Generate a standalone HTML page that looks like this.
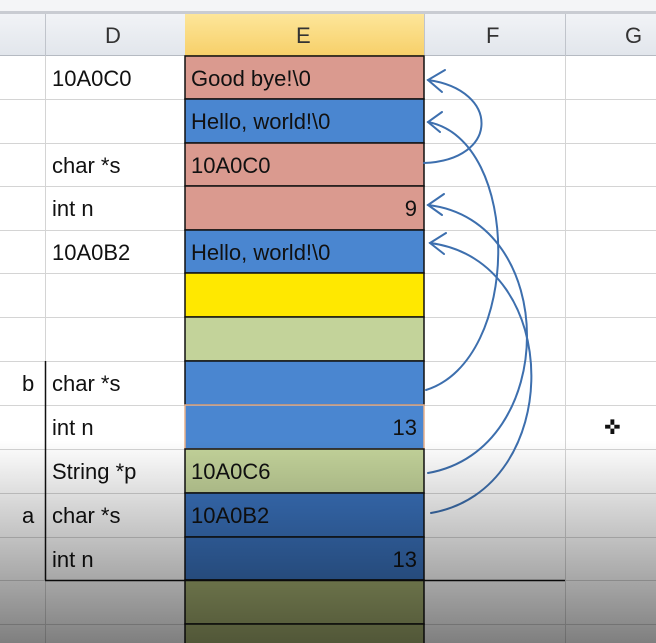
<!DOCTYPE html>
<html><head><style>
body{margin:0;width:656px;height:643px;overflow:hidden;background:#fff;font-family:"Liberation Sans",sans-serif;}
.a{position:absolute;box-sizing:border-box;}
.t{font-size:22px;color:#111;line-height:43px;white-space:nowrap;}
</style></head><body>
<div class="a" style="left:0;top:0;width:656px;height:14px;background:#f4f5f7;border-bottom:3px solid #c9ccd2"></div>
<div class="a" style="left:0;top:14px;width:656px;height:42px;background:linear-gradient(#f1f3f6,#e2e6ec);border-bottom:1px solid #b5bac2"></div>
<div class="a" style="left:185px;top:14px;width:239px;height:42px;background:linear-gradient(#fde69a,#f7d06a);border-bottom:1px solid #c9a94d"></div>
<div class="a" style="left:45px;top:14px;width:1px;height:42px;background:#c0c4cb"></div>
<div class="a" style="left:424px;top:14px;width:1px;height:42px;background:#c0c4cb"></div>
<div class="a" style="left:565px;top:14px;width:1px;height:42px;background:#c0c4cb"></div>
<div class="a t" style="left:105px;top:14px;color:#333">D</div>
<div class="a t" style="left:296px;top:14px;color:#333">E</div>
<div class="a t" style="left:486px;top:14px;color:#333">F</div>
<div class="a t" style="left:625px;top:14px;color:#333">G</div>
<svg class="a" style="left:0;top:0" width="656" height="643">
<g stroke="#d4d4d4" stroke-width="1">
<line x1="45.5" y1="56" x2="45.5" y2="643"/><line x1="565.5" y1="56" x2="565.5" y2="643"/>
<line x1="0" y1="99.5" x2="656" y2="99.5"/><line x1="0" y1="143.5" x2="656" y2="143.5"/>
<line x1="0" y1="186.5" x2="656" y2="186.5"/><line x1="0" y1="230.5" x2="656" y2="230.5"/>
<line x1="0" y1="273.5" x2="656" y2="273.5"/><line x1="0" y1="317.5" x2="656" y2="317.5"/>
<line x1="0" y1="361.5" x2="656" y2="361.5"/><line x1="0" y1="405.5" x2="656" y2="405.5"/>
<line x1="0" y1="449.5" x2="656" y2="449.5"/><line x1="0" y1="493.5" x2="656" y2="493.5"/>
<line x1="0" y1="537.5" x2="656" y2="537.5"/><line x1="0" y1="580.5" x2="656" y2="580.5"/>
<line x1="0" y1="624.5" x2="656" y2="624.5"/>
</g>
<g stroke="#111" stroke-width="1.5">
<rect x="185" y="56" width="239" height="43" fill="#da9a8f"/>
<rect x="185" y="99" width="239" height="44" fill="#4a86d0"/>
<rect x="185" y="143" width="239" height="43" fill="#da9a8f"/>
<rect x="185" y="186" width="239" height="44" fill="#da9a8f"/>
<rect x="185" y="230" width="239" height="43" fill="#4a86d0"/>
<rect x="185" y="273" width="239" height="44" fill="#ffe800"/>
<rect x="185" y="317" width="239" height="44" fill="#c3d39a"/>
<rect x="185" y="361" width="239" height="44" fill="#4a86d0"/>
<rect x="185" y="405" width="239" height="44" fill="#4a86d0" stroke="#e8b08a"/>
<rect x="185" y="449" width="239" height="44" fill="#c3d39a"/>
<rect x="185" y="493" width="239" height="44" fill="#3a72bd"/>
<rect x="185" y="537" width="239" height="43" fill="#3a72bd"/>
<rect x="185" y="580" width="239" height="44" fill="#a3ae70"/>
<rect x="185" y="624" width="239" height="30" fill="#a3ae70"/>
</g>
<line x1="45.5" y1="361" x2="45.5" y2="580" stroke="#111" stroke-width="1.5"/>
<line x1="45" y1="580.5" x2="565" y2="580.5" stroke="#111" stroke-width="1.5"/>
</svg>
<div class="a t" style="left:52px;top:57px">10A0C0</div>
<div class="a t" style="left:52px;top:144px">char *s</div>
<div class="a t" style="left:52px;top:187px">int n</div>
<div class="a t" style="left:52px;top:231px">10A0B2</div>
<div class="a t" style="left:22px;top:362px">b</div>
<div class="a t" style="left:52px;top:362px">char *s</div>
<div class="a t" style="left:52px;top:406px">int n</div>
<div class="a t" style="left:52px;top:450px">String *p</div>
<div class="a t" style="left:22px;top:494px">a</div>
<div class="a t" style="left:52px;top:494px">char *s</div>
<div class="a t" style="left:52px;top:538px">int n</div>
<div class="a t" style="left:191px;top:57px">Good bye!\0</div>
<div class="a t" style="left:191px;top:100px">Hello, world!\0</div>
<div class="a t" style="left:191px;top:144px">10A0C0</div>
<div class="a t" style="left:191px;top:187px;width:226px;text-align:right">9</div>
<div class="a t" style="left:191px;top:231px">Hello, world!\0</div>
<div class="a t" style="left:191px;top:406px;width:226px;text-align:right">13</div>
<div class="a t" style="left:191px;top:450px">10A0C6</div>
<div class="a t" style="left:191px;top:494px">10A0B2</div>
<div class="a t" style="left:191px;top:538px;width:226px;text-align:right">13</div>
<div class="a t" style="left:604px;top:418px;font-size:20px;line-height:20px">✜</div>
<svg class="a" style="left:0;top:0" width="656" height="643">
<g fill="none" stroke="#3d6fae" stroke-width="2" stroke-linecap="round">
<path d="M424 163 C500 160 500 90 428 80"/><path d="M445 70 L428 80 L442 92"/>
<path d="M426 390 C522 360 522 140 428 122"/><path d="M442 112 L428 122 L440 132"/>
<path d="M428 473 C560 450 560 220 428 205"/><path d="M444 194 L428 205 L442 215"/>
<path d="M431 513 C565 490 565 260 430 243"/><path d="M446 233 L430 243 L444 254"/>
</g>
</svg>
<div class="a" style="left:0;top:440px;width:656px;height:203px;background:linear-gradient(rgba(0,0,0,0),rgba(0,0,0,0.5))"></div>
</body></html>
